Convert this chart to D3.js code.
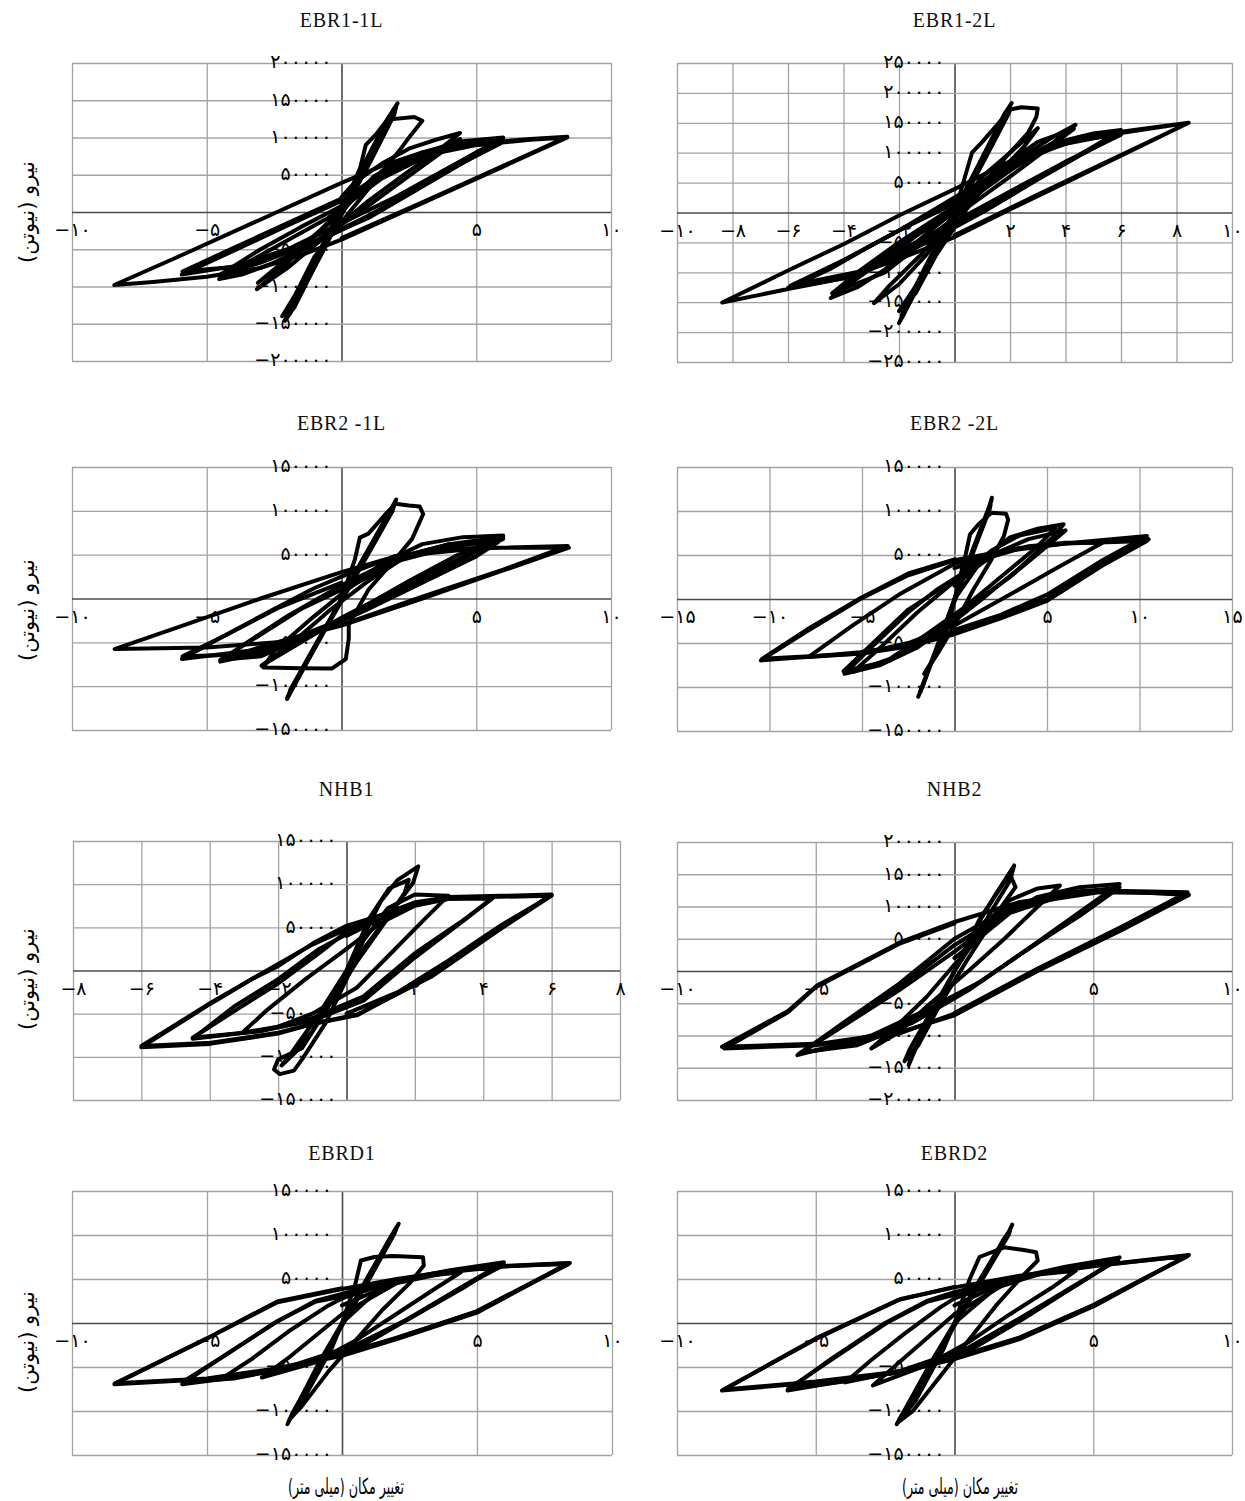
<!DOCTYPE html>
<html><head><meta charset="utf-8">
<script src="https://cdn.jsdelivr.net/npm/d3@7"></script>
<style>body{margin:0;background:#fff}</style>
</head><body>
<svg id="c" width="1245" height="1501"></svg>
<script>
// ---------- titles & axes ----------
const titles = ["EBR1-1L","EBR1-2L","EBR2 -1L","EBR2 -2L","NHB1","NHB2","EBRD1","EBRD2"];
const xDomains = [[-10,10],[-10,10],[-10,10],[-15,15],[-8,8],[-10,10],[-10,10],[-10,10]];
const xSteps = [5,2,5,5,2,5,5,5];
const yDomains = [[-200000,200000],[-250000,250000],[-150000,150000],[-150000,150000],[-150000,150000],[-200000,200000],[-150000,150000],[-150000,150000]];
const yStep = 50000;
const xTicks = [
  [-10,-5,5,10],[-10,-8,-6,-4,-2,2,4,6,8,10],[-10,-5,5,10],[-15,-10,-5,5,10,15],
  [-8,-6,-4,-2,2,4,6,8],[-10,-5,5,10],[-10,-5,5,10],[-10,-5,5,10]];
const yTicks = [
  [-200000,-150000,-100000,-50000,50000,100000,150000,200000],
  [-250000,-200000,-150000,-100000,-50000,50000,100000,150000,200000,250000],
  [-150000,-100000,-50000,50000,100000,150000],
  [-150000,-100000,-50000,50000,100000,150000],
  [-150000,-100000,-50000,50000,100000,150000],
  [-200000,-150000,-100000,-50000,50000,100000,150000,200000],
  [-150000,-100000,-50000,50000,100000,150000],
  [-150000,-100000,-50000,50000,100000,150000]];
const yAxisLabel = "نیرو (نیوتن)";
const xAxisLabel = "تغییر مکان (میلی متر)";

// ---------- data: displacement (mm), force (N) ----------
const ebr1_1L = [
 [[0,0],[1.0,68000],[2.0,140000],[2.08,146000],[1.9,136000],[0.8,55000],[0,2000],[-1.0,-68000],[-2.0,-140000],[-2.1,-146000],[-1.9,-136000],[-0.8,-55000],[0,0]],
 [[0,-4000],[1.05,66000],[1.95,130000],[2.02,140000],[1.75,128000],[0.6,48000],[-0.2,-8000],[-1.1,-72000],[-1.95,-132000],[-2.05,-141000],[-1.75,-128000],[-0.6,-45000],[0,-4000]],
 [[0,0],[0.7,60000],[0.9,90000],[1.3,105000],[1.7,124000],[2.7,127500],[3.0,122500],[2.6,104500],[2.2,85000],[1.2,40000],[0.3,0],[-1.0,-60000],[-1.7,-110000],[-2.2,-140000],[-1.6,-115000],[-0.5,-40000],[0,0]],
 [[0,20000],[0.5,40000],[1.5,65000],[2.5,85000],[3.5,97000],[4.4,106000],[3.5,80000],[2.5,55000],[1.0,15000],[0,-15000],[-1.0,-45000],[-2.0,-75000],[-2.8,-95000],[-3.14,-103600],[-2.2,-75000],[-1.2,-40000],[0,0],[0.5,20000]],
 [[0,10000],[1.5,50000],[3,76000],[4.4,98000],[3.4,72000],[2,35000],[0.5,-5000],[-1,-40000],[-2.2,-70000],[-3.1,-95000],[-2,-62000],[-0.8,-25000],[0,5000]],
 [[0.5,20000],[1.5,55000],[3,80000],[4.5,95000],[6.0,100000],[5.0,80000],[3.5,48000],[2,15000],[0.5,-15000],[-1,-42000],[-2.5,-68000],[-3.7,-84000],[-4.54,-90000],[-3.5,-68000],[-2,-38000],[-0.5,-8000],[0,5000]],
 [[0,8000],[1.6,52000],[3.2,80000],[5,96000],[6.0,97000],[4.8,72000],[3,35000],[1,-5000],[-1,-40000],[-3,-68000],[-4.5,-84000],[-3,-50000],[-1.5,-20000],[0,8000]],
 [[0,5000],[1.5,45000],[3,72000],[4.5,90000],[5.96,96000],[5,80000],[3.5,50000],[2,20000],[0,-15000],[-2,-50000],[-4,-73000],[-5.93,-84000],[-4,-52000],[-2,-18000],[0,15000]],
 [[0,0],[1.2,48000],[2.5,72000],[4,88000],[5.9,92000],[4.5,66000],[2.8,30000],[1,-8000],[-1.5,-48000],[-3.5,-72000],[-5.9,-80000],[-4,-48000],[-2,-15000],[0,18000]],
 [[0,15000],[1.5,52000],[3,75000],[5,90000],[7,97000],[8.38,100000],[6,61000],[3,12000],[0,-37000],[-1.5,-58000],[-3,-75000],[-5,-87000],[-7,-94000],[-8.43,-98000],[-6,-59000],[-3,-10000],[0,39000],[1.5,62000],[3,80000],[5,92000],[7,98000],[8.38,101000],[6,62000],[3,13000],[0,-35000]]
];
const ebr1_2L = [
 [[0,0],[1,88000],[2.0,178000],[2.06,183000],[1.8,165000],[0.7,65000],[0,2000],[-1,-90000],[-1.95,-180000],[-2.0,-185000],[-1.8,-168000],[-0.7,-65000],[0,0]],
 [[0,-5000],[1.05,85000],[1.95,165000],[2.0,172000],[1.7,150000],[0.55,50000],[-0.2,-15000],[-1.1,-95000],[-1.85,-165000],[-1.9,-172000],[-1.6,-150000],[-0.5,-50000],[0,-5000]],
 [[0,0],[0.63,100000],[1.0,118000],[1.6,150000],[2.0,172000],[2.4,176000],[3.0,174000],[2.95,160000],[2.65,133000],[1.8,90000],[0.5,10000],[-0.5,-60000],[-1.5,-130000],[-2.0,-165000],[-1.4,-135000],[-0.3,-40000],[0,0]],
 [[0,0],[1,60000],[2,100000],[3,141000],[2.5,110000],[1.5,60000],[0,-10000],[-1,-70000],[-2,-120000],[-2.9,-151600],[-2.4,-125000],[-1.2,-70000],[0,-5000],[1,45000]],
 [[1,45000],[2.5,95000],[3.5,125000],[4.36,146600],[3.5,115000],[2,70000],[0.5,20000],[-1,-35000],[-2.5,-95000],[-3.5,-125000],[-4.46,-143000],[-3.5,-110000],[-2,-60000],[-0.5,-10000],[0.5,25000],[2,80000]],
 [[0,10000],[1.5,70000],[3,118000],[4.3,140000],[3.3,105000],[2,60000],[0.5,10000],[-1,-45000],[-2.5,-100000],[-4.4,-135000],[-3.5,-100000],[-2,-50000],[0,10000]],
 [[2,80000],[3.5,115000],[5,132000],[6.0,138000],[5,110000],[3.5,70000],[2,30000],[0,-20000],[-2,-70000],[-4,-110000],[-5.96,-126500],[-4.5,-95000],[-3,-55000],[-1,-5000],[0,20000],[1.5,60000]],
 [[1.5,60000],[3,100000],[4.5,122000],[6.0,130000],[4,85000],[2,35000],[0,-15000],[-2,-65000],[-3.5,-105000],[-4.4,-135000],[-3.5,-105000],[-2,-55000],[0,0]],
 [[0,15000],[2,75000],[4,118000],[6.0,132000],[4.5,95000],[3,55000],[1,0],[-1,-50000],[-3,-95000],[-5.9,-122000],[-4,-80000],[-2,-30000],[0,15000]],
 [[-6.0,-126000],[-4,-80000],[-2,-30000],[0,25000],[2,80000],[4,115000],[6,133000],[8.44,150000],[6,95000],[4,50000],[2,5000],[0,-41000],[-2,-78000],[-4,-110000],[-6,-128000],[-8.37,-150500],[-6,-97000],[-4,-53000],[-2,-5000],[0,39000],[2.35,93600],[4.5,121500],[6,135000],[8.44,150000],[6,96000],[3,30000],[0,-38000]]
];
const ebr2_1L = [
 [[0,0],[1,56000],[2.0,110000],[2.03,113000],[1.8,100000],[0.7,40000],[0,0],[-1,-56000],[-2.0,-112000],[-2.02,-114700],[-1.8,-102000],[-0.7,-40000],[0,0]],
 [[0,-3000],[1.05,54000],[1.9,100000],[1.95,106000],[1.7,94000],[0.6,34000],[-0.1,-6000],[-1.1,-60000],[-1.9,-104000],[-1.95,-110000],[-1.7,-96000],[-0.6,-35000],[0,-3000]],
 [[0,0],[0.5,45000],[0.68,69500],[1.0,74000],[1.6,95000],[2.0,108000],[2.5,106000],[2.9,105000],[3.03,96400],[2.62,68000],[2.0,45000],[1.0,10000],[0.27,-30000],[0.27,-46000],[0.16,-69000],[-0.35,-79800],[-1.5,-79500],[-2.9,-78600],[-2.5,-60000],[-1.2,-25000],[0,5000]],
 [[0,5000],[1.5,40000],[3,62000],[4.5,70000],[6.0,72000],[5.5,62000],[4,40000],[2,10000],[0,-22000],[-1.5,-50000],[-2.97,-76700],[-2.0,-55000],[-0.5,-15000],[1,20000]],
 [[1,20000],[2.5,50000],[4,62000],[5.8,64000],[5,48000],[3,18000],[1,-12000],[-1,-40000],[-3,-62000],[-4.5,-72000],[-3.5,-50000],[-2,-20000],[0,15000]],
 [[0,10000],[2,46000],[4,62000],[5.9,70000],[4.2,48000],[2.5,20000],[0.5,-15000],[-1.5,-46000],[-3,-66000],[-4.5,-70000],[-3.2,-45000],[-1.5,-12000],[0,10000]],
 [[0,15000],[2,45000],[4,60000],[6,70000],[4.5,45000],[2.5,12000],[0.5,-18000],[-1.5,-42000],[-3.5,-60000],[-5.92,-69000],[-4.5,-45000],[-2.5,-12000],[-1,12000],[0,25000]],
 [[0,8000],[2,42000],[4,58000],[6,68000],[4.6,48000],[2.6,16000],[0.6,-14000],[-1.5,-45000],[-3.5,-64000],[-5.9,-66000],[-4.3,-42000],[-2.3,-10000],[0,18000]],
 [[0,25000],[2,48600],[5,58000],[8.44,58000],[6,32000],[3,0],[0,-31000],[-2.4,-50000],[-5,-55800],[-8.42,-57700],[-6,-32000],[-3,0],[0,30000],[2,48000],[5,57000],[8.4,60000],[6,33000],[3,2000],[0,-30000]]
];
const ebr2_2L = [
 [[0,0],[1,57000],[2.0,112000],[2.02,115000],[1.8,100000],[0.7,38000],[0,0],[-1,-57000],[-1.9,-108000],[-1.96,-111000],[-1.7,-98000],[-0.6,-35000],[0,0]],
 [[0,-3000],[1.05,55000],[1.9,102000],[1.95,107000],[1.7,94000],[0.6,33000],[-0.1,-6000],[-1.05,-62000],[-1.8,-102000],[-1.85,-106000],[-1.6,-92000],[-0.5,-30000],[0,-3000]],
 [[0,0],[0.6,50000],[0.84,73600],[1.3,85000],[2.0,98000],[2.78,97000],[2.9,90000],[2.67,71700],[2.0,45000],[1.0,10000],[0,-30000],[-1.0,-65000],[-1.64,-85000],[-1.2,-70000],[-0.3,-30000],[0,0]],
 [[0,0],[1.5,45000],[3,70000],[4.5,80000],[5.9,85000],[5.3,70000],[3.5,35000],[1.5,0],[0,-25000],[-2,-55000],[-4,-75000],[-5.95,-85000],[-4.5,-55000],[-2.5,-15000],[-1,10000],[0.5,30000]],
 [[0.5,30000],[2,55000],[3.5,72000],[5.47,81000],[4.5,60000],[2.5,25000],[0.5,-10000],[-1.5,-40000],[-3.5,-68000],[-5.5,-83000],[-4,-55000],[-2,-15000],[0,20000]],
 [[0,15000],[2,50000],[4,68000],[6,78000],[5,60000],[3,25000],[1,-5000],[-1.5,-42000],[-3.5,-70000],[-6,-82000],[-4.5,-52000],[-2.5,-12000],[0,22000]],
 [[0,20000],[2,48000],[4,60000],[6,64000],[8.0,64000],[5.5,35000],[3,5000],[0,-30000],[-2.5,-50000],[-5,-62000],[-7.9,-66000],[-5.5,-30000],[-3,5000],[0,40000]],
 [[0,35000],[3,55000],[6,63000],[10.4,66000],[8,38000],[5,-2000],[2.5,-22000],[0,-40000],[-2.5,-54000],[-5,-62000],[-10.4,-68000],[-8,-35000],[-5,2000],[-2.5,29000],[0,45000]],
 [[0,40000],[3.5,58000],[7,65000],[10.5,68000],[8,40000],[5.04,0],[2.5,-20000],[0,-37700],[-2.5,-52000],[-5.09,-60400],[-8,-66000],[-10.47,-69800],[-8,-37000],[-5.09,0],[-2.5,27000],[0,44000],[3.5,58000],[7,65000],[10.4,71700],[8,44000],[5,5000],[2.5,-18000],[0,-35000]]
];
const nhb1 = [
 [[0,0],[0.5,40000],[1.0,80000],[1.5,105000],[2.1,120700],[1.94,101000],[1.36,70500],[0.5,25000],[0,0],[-0.5,-35000],[-1.0,-70000],[-1.5,-95000],[-1.9,-110000],[-1.6,-95000],[-0.8,-50000],[0,0]],
 [[0,0],[0.66,60000],[1.24,95000],[1.82,105000],[1.7,90000],[1.2,60000],[0.3,10000],[-0.5,-40000],[-1.3,-90000],[-2.0,-103000],[-2.12,-114600],[-1.95,-120000],[-1.54,-116000],[-1.3,-103000],[-0.6,-60000],[0,-10000]],
 [[0,-10000],[0.5,35000],[1.2,72000],[2.0,88000],[2.98,86700],[2.3,60000],[1.3,20000],[0.3,-20000],[-1,-50000],[-2,-65000],[-3.05,-72000],[-2.3,-45000],[-1.2,-10000],[0,25000]],
 [[0,25000],[1,55000],[2,75000],[3,83000],[4.25,83000],[3.3,55000],[2,20000],[0.5,-30000],[-1,-55000],[-2.5,-70000],[-4.5,-77900],[-3.2,-45000],[-2,-15000],[-0.8,20000],[0,45000]],
 [[0,40000],[1,60000],[2,76000],[3,83000],[4.3,85000],[3.5,60000],[2,15000],[0.5,-35000],[-1,-58000],[-2.5,-70000],[-4.5,-79000],[-3.3,-42000],[-2,-10000],[-0.8,25000],[0,42000]],
 [[0,48000],[1,64000],[2,79000],[3,85000],[6.0,88000],[4.4,46000],[2.5,-5000],[0.3,-52000],[-1,-62000],[-2,-73000],[-4,-85000],[-6.0,-89000],[-4,-39000],[-2.6,-6000],[-1,30000],[0,48000]],
 [[0,45000],[1,63000],[2,78000],[3,84000],[6.0,86700],[4.5,48000],[2.51,-6500],[0.31,-51000],[-0.85,-60500],[-2,-72000],[-3.97,-83700],[-6.0,-87500],[-3.97,-37400],[-2.7,-8500],[-2,5000],[-0.96,32000],[-0.03,51300],[0.89,62800],[2,78000],[3,84000],[6.0,87000],[4.5,52000],[3,12000],[1.5,-25000],[0,-50000]]
];
const nhb2 = [
 [[0,0],[0.8,70000],[1.5,120000],[2.15,163600],[2.0,140000],[1.5,105000],[0.6,40000],[0,0],[-0.7,-60000],[-1.3,-110000],[-1.65,-146000],[-1.5,-125000],[-0.8,-70000],[0,0]],
 [[0,0],[0.9,80000],[1.6,125000],[2.0,150000],[2.2,130000],[1.7,100000],[0.5,20000],[-0.5,-50000],[-1.3,-115000],[-1.8,-140000],[-1.6,-120000],[-0.8,-60000],[0,0]],
 [[0,0],[1,70000],[2,110000],[3,128000],[3.8,132600],[3.0,100000],[1.8,50000],[0.5,0],[-1,-55000],[-2,-95000],[-3,-120000],[-2.2,-90000],[-1,-40000],[0,10000]],
 [[0,10000],[1.5,80000],[3,115000],[4.5,130000],[5.95,135000],[4.8,100000],[3,45000],[1,-15000],[-1,-60000],[-3,-100000],[-5.66,-130500],[-4,-85000],[-2,-30000],[0,30000]],
 [[0,20000],[2,90000],[4,118000],[5.95,130000],[4.6,92000],[2.8,38000],[0.8,-20000],[-1.5,-75000],[-3.5,-112000],[-5.6,-128000],[-4,-82000],[-2,-25000],[0,40000]],
 [[0,30000],[2,95000],[4,122000],[5.9,128000],[4.5,85000],[2.5,30000],[0.5,-30000],[-1.5,-80000],[-3.5,-115000],[-5.5,-126000],[-4,-80000],[-2,-20000],[0,50000]],
 [[0,40000],[2.3,103000],[5.2,122000],[8.4,120000],[6,65000],[3,2000],[0,-66000],[-2,-97000],[-5,-115000],[-8.3,-120000],[-6,-64000],[-5,-25000],[-2,42000],[0,74000]],
 [[0,50000],[2.36,107000],[5.23,125000],[8.45,118000],[6,63000],[3,0],[0,-68600],[-1.93,-94400],[-4.8,-112500],[-8.38,-117600],[-6,-62000],[-4.94,-22000],[-1.93,45000],[0,76000],[2.36,107000],[5.23,125000],[8.4,122000],[6,68000],[3,4000],[0,-65000]]
];
const ebrd1 = [
 [[0,0],[1,55000],[2.0,108000],[2.1,112800],[1.9,100000],[0.8,40000],[0,0],[-1,-56000],[-1.95,-110000],[-2.02,-115000],[-1.8,-102000],[-0.8,-42000],[0,0]],
 [[0,-3000],[1.05,52000],[1.95,102000],[2.0,107000],[1.75,95000],[0.7,35000],[-0.1,-8000],[-1.05,-60000],[-1.85,-103000],[-1.9,-108000],[-1.65,-95000],[-0.6,-35000],[0,-3000]],
 [[0,0],[0.5,45000],[0.7,71000],[1.2,75000],[1.89,76000],[3.0,74800],[3.03,65300],[2.5,45000],[1.5,15000],[0.5,-20000],[-0.5,-55000],[-1.5,-95000],[-1.9,-108000],[-1.4,-85000],[-0.4,-30000],[0,0]],
 [[0,0],[1.5,42000],[3,53000],[4.4,57700],[3.5,40000],[2,10000],[0.5,-20000],[-1,-45000],[-2.97,-62000],[-2,-40000],[-0.8,-10000],[0,10000]],
 [[0,10000],[2,45000],[4,58000],[5.7,63400],[4.5,40000],[2.5,5000],[0.5,-25000],[-2,-50000],[-4.5,-64000],[-3.3,-40000],[-2,-10000],[-0.5,20000],[0,28000]],
 [[0,20000],[2,46000],[4,59000],[6.0,66000],[4.4,40000],[2.4,4000],[0.4,-28000],[-2,-51000],[-4,-63000],[-5.9,-67000],[-4.4,-38000],[-2.4,2000],[-1,24000],[0,30000]],
 [[0,28000],[2,48000],[4,60000],[6.0,69000],[4.5,42000],[2.5,5000],[0.5,-30000],[-2,-52000],[-4,-62000],[-5.92,-69500],[-4.5,-40000],[-2.5,0],[-1,25000],[0,33000]],
 [[0,30000],[2,49000],[5,62500],[8.4,68000],[5,13500],[2,-17500],[0,-36000],[-2.4,-51500],[-5,-63000],[-8.4,-68500],[-5,-17500],[-2.4,24500],[0,39500]],
 [[0,33000],[2.03,50100],[4.98,63500],[8.44,68300],[5.03,12200],[2.03,-18200],[0,-37200],[-2.39,-52400],[-5.04,-63800],[-8.43,-69500],[-5.04,-18200],[-2.39,23500],[0,38700],[2.03,50100],[4.98,63500],[8.4,67000],[5,13000],[2,-17000],[0,-35000]]
];
const ebrd2 = [
 [[0,0],[1,54000],[2.0,106000],[2.08,111800],[1.9,100000],[0.8,40000],[0,0],[-1,-56000],[-2.0,-110000],[-2.08,-115000],[-1.85,-102000],[-0.8,-42000],[0,0]],
 [[0,-3000],[1.05,52000],[1.95,100000],[2.0,105000],[1.75,94000],[0.7,35000],[-0.1,-8000],[-1.05,-60000],[-1.9,-105000],[-1.95,-110000],[-1.7,-97000],[-0.6,-35000],[0,-3000]],
 [[0,0],[0.55,50000],[0.9,75000],[1.79,86000],[2.5,83000],[2.94,80500],[3.0,71000],[2.5,55000],[1.5,20000],[0.5,-20000],[-0.5,-60000],[-1.5,-100000],[-2.0,-112000],[-1.4,-88000],[-0.4,-30000],[0,0]],
 [[0,0],[1.5,40000],[3,55000],[4.37,59500],[3.5,40000],[2,10000],[0.5,-22000],[-1,-48000],[-2.94,-71000],[-2,-45000],[-0.8,-12000],[0,10000]],
 [[0,10000],[2,48000],[4,62000],[5.8,70600],[4.5,45000],[2.5,8000],[0.5,-28000],[-2,-55000],[-3.94,-67500],[-3,-42000],[-1.8,-12000],[-0.5,18000],[0,28000]],
 [[0,20000],[2,49000],[4,63000],[5.9,72000],[4.4,44000],[2.4,6000],[0.4,-30000],[-2,-55500],[-4,-66500],[-6,-75000],[-4.4,-41000],[-2.4,1000],[-1,24000],[0,32000]],
 [[0,28000],[2,50000],[4,64000],[5.95,74600],[4.5,45000],[2.5,5000],[0.5,-32000],[-2,-56000],[-4,-66000],[-6.02,-76700],[-4.5,-42000],[-2.5,0],[-1,25000],[0,35000]],
 [[0,32000],[2.3,52500],[5,64500],[8.4,76500],[5,20500],[2.3,-17500],[0,-40000],[-2,-55000],[-5,-66500],[-8.3,-75500],[-5,-17500],[-2,26500],[0,41000]],
 [[0,35000],[2.36,53800],[5.06,65200],[8.45,77400],[5.06,19700],[2.36,-18200],[0,-41000],[-1.93,-56000],[-4.99,-67500],[-8.38,-76700],[-4.99,-18200],[-1.93,27300],[0,40500],[2.36,53800],[5.06,65200],[8.4,76000],[5,20000],[2.3,-17000],[0,-39000]]
];
const series = [ebr1_1L, ebr1_2L, ebr2_1L, ebr2_2L, nhb1, nhb2, ebrd1, ebrd2];

// ---------- layout ----------
const boxes = [
  [72,611,63,361],[677,1232,63,362],
  [72,611,467,730],[677,1232,467,731],
  [73,620,841,1100],[677,1232,842,1100],
  [72,612,1191,1455],[677,1232,1191,1455]];
const titleY = [20,20,423,423,789,789,1153,1153];
const yLabelY = [212,610,979,1342];
const xLabelX = [346,960];
const xLabelY = 1486;

const faDigits = "۰۱۲۳۴۵۶۷۸۹";
const fa = v => (v < 0 ? "−" : "") + String(Math.abs(v)).replace(/\d/g, c => faDigits[+c]);
const FONT = "'DejaVu Sans', 'Noto Sans', sans-serif";

const svg = d3.select("#c");
svg.append("rect").attr("width",1245).attr("height",1501).attr("fill","#fff");

series.forEach((loops, i) => {
  const [x0,x1,y0,y1] = boxes[i];
  const x = d3.scaleLinear().domain(xDomains[i]).range([x0,x1]);
  const y = d3.scaleLinear().domain(yDomains[i]).range([y1,y0]);
  const g = svg.append("g");
  const xs = d3.range(xDomains[i][0], xDomains[i][1] + 1e-9, xSteps[i]);
  const ys = d3.range(yDomains[i][0], yDomains[i][1] + 1e-9, yStep);

  g.append("g").attr("transform", `translate(0,${y1})`)
    .call(d3.axisBottom(x).tickValues(xs).tickSize(-(y1-y0)).tickFormat(""))
    .call(a => { a.select(".domain").remove();
      a.selectAll("line").attr("stroke", d => d === 0 ? "#4a4a4a" : "#a3a3a3").attr("stroke-width", d => d === 0 ? 1.6 : 1.3); });
  g.append("g").attr("transform", `translate(${x0},0)`)
    .call(d3.axisLeft(y).tickValues(ys).tickSize(-(x1-x0)).tickFormat(""))
    .call(a => { a.select(".domain").remove();
      a.selectAll("line").attr("stroke", d => d === 0 ? "#4a4a4a" : "#a3a3a3").attr("stroke-width", d => d === 0 ? 1.6 : 1.3); });

  g.append("g").attr("transform", `translate(${x(0)},0)`)
    .call(d3.axisLeft(y).tickValues(yTicks[i]).tickSize(0).tickPadding(10).tickFormat(fa))
    .call(a => { a.select(".domain").remove();
      a.attr("font-family", FONT).attr("font-size", 19);
      a.selectAll("text").attr("fill", "#000").attr("dy", "0.25em").attr("letter-spacing", 1.3); });
  g.append("g").attr("transform", `translate(0,${y(0)})`)
    .call(d3.axisBottom(x).tickValues(xTicks[i]).tickSize(0).tickPadding(11).tickFormat(fa))
    .call(a => { a.select(".domain").remove();
      a.attr("font-family", FONT).attr("font-size", 19);
      a.selectAll("text").attr("fill", "#000"); });

  svg.append("text").attr("x", (x0+x1)/2).attr("y", titleY[i]).attr("dy", "0.35em")
    .attr("text-anchor", "middle").attr("font-family", "'Liberation Serif', 'Times New Roman', serif")
    .attr("font-size", 20).attr("letter-spacing", 0.8).attr("fill", "#111").text(titles[i]);

  const line = d3.line().x(d => x(d[0])).y(d => y(d[1]));
  g.append("g").selectAll("path").data(loops).join("path")
    .attr("d", line).attr("fill", "none").attr("stroke", "#000")
    .attr("stroke-width", 4).attr("stroke-linejoin", "round").attr("stroke-linecap", "round");
});

yLabelY.forEach(cy => {
  svg.append("text").attr("transform", `translate(27,${cy}) rotate(-90)`).attr("dy", "0.35em")
    .attr("text-anchor", "middle").attr("font-family", FONT).attr("font-size", 21).attr("fill", "#000")
    .text(yAxisLabel);
});
xLabelX.forEach(cx => {
  svg.append("text").attr("x", cx).attr("y", xLabelY).attr("dy", "0.35em")
    .attr("text-anchor", "middle").attr("font-family", FONT).attr("font-size", 22)
    .attr("textLength", 116).attr("lengthAdjust", "spacingAndGlyphs").attr("fill", "#000")
    .text(xAxisLabel);
});
</script>
</body></html>
